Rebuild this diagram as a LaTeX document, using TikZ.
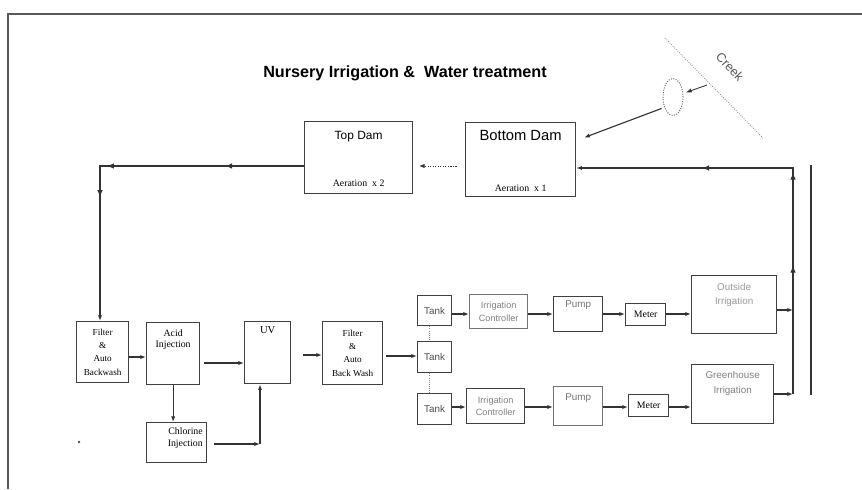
\documentclass[tikz,border=0pt]{standalone}
\usepackage{fontspec}
\setmainfont{Liberation Serif}
\setsansfont{Liberation Sans}
\usetikzlibrary{positioning,arrows.meta,decorations.markings,shapes.geometric}

\begin{document}
\begin{tikzpicture}[x=0.025cm, y=-0.025cm,
	>={Latex[length=4pt,width=3pt]},
	box/.style={draw=black!75, line width=0.9pt, anchor=north west, inner sep=0pt},
	pbox/.style={box, draw=black!55},
	serif/.style 2 args={font=\rmfamily\fontsize{#1}{#2}\selectfont, inner sep=0pt, align=center},
	sans/.style 2 args={font=\sffamily\fontsize{#1}{#2}\selectfont, inner sep=0pt, align=center},
	flow/.style={draw=black!80, line width=0.8pt, ->},
	midtip/.style={postaction={decorate, decoration={markings, mark=at position #1 with {\arrow{Latex[length=5pt,width=4pt]}}}}},
	link/.style={draw=black!45, densely dotted, line width=0.5pt}]
	\useasboundingbox (0,0) rectangle (862,489);
	\draw[black!65, line width=1.4pt] (862,14) -- (8,14) -- (8,489);
	\draw[black!80, line width=1.3pt] (811,165) -- (811,395);
	\fill[black!70] (79,442) circle (0.9pt);
	\node[font=\sffamily\bfseries\fontsize{11.5}{13}\selectfont] (title) at (405,73) {Nursery Irrigation \&\ \ Water treatment};
	% dams and creek
	\node[box, minimum width=2.7cm, minimum height=1.8cm] (topdam) at (304,121) {};
	\node[box, minimum width=2.75cm, minimum height=1.85cm] (botdam) at (465,122) {};
	\node[sans={8.5}{10}] (topdamt) [below=7pt of topdam.north] {Top Dam};
	\node[serif={7}{9}] (topdama) [above=5pt of topdam.south] {Aeration\ \ x 2};
	\node[sans={10.5}{12}] (botdamt) [below=6pt of botdam.north] {Bottom Dam};
	\node[serif={7}{9}] (botdama) [above=4pt of botdam.south] {Aeration\ \ x 1};
	\coordinate (cr1) at (665,38);
	\coordinate (cr2) at (763,138);
	\draw[black!45, densely dotted, line width=0.6pt] (cr1) -- (cr2);
	\node[sans={9}{10}, text=black!65, rotate=-47] (creek) at (730,67) {Creek};
	\node[draw=black!60, densely dotted, line width=0.7pt, ellipse, minimum width=0.5cm, minimum height=0.925cm, inner sep=0pt] (pond) at (673,97) {};
	\coordinate (cin) at (707,85);
	\coordinate (bdin) at (575,141);
	\draw[flow, line width=0.6pt, shorten >=2pt] (cin) -- (pond);
	\draw[flow, shorten <=2pt, shorten >=7pt] (pond.230) -- (bdin);
	% treatment line
	\node[box, serif={6.5}{9.5}, minimum width=1.3cm, minimum height=1.525cm] (filt1) at (76,321) {Filter\\\&\\Auto\\Backwash};
	\node[box, minimum width=1.325cm, minimum height=1.55cm] (acid) at (146,322) {};
	\node[box, minimum width=1.15cm, minimum height=1.55cm] (uv) at (244,321) {};
	\node[box, serif={6.5}{9.5}, minimum width=1.5cm, minimum height=1.575cm] (filt2) at (322,321) {Filter\\\&\\Auto\\Back Wash};
	\node[box, minimum width=1.5cm, minimum height=1cm] (chl) at (146,422) {};
	\node[serif={7}{8}] (acidt) [below=5pt of acid.north] {Acid\\Injection};
	\node[serif={7.5}{9}] (uvt) [below=3.5pt of uv.north] {UV};
	\node[serif={7}{8.5}, align=right] (chlt) [below left=4pt and 3pt of chl.north east] {Chlorine\\Injection};
	% tanks and irrigation
	\node[box, sans={7}{9}, text=black!70, minimum width=0.85cm, minimum height=0.75cm] (tank1) at (417,295) {Tank};
	\node[box, sans={7}{9}, text=black!70, minimum width=0.85cm, minimum height=0.775cm] (tank2) at (417,341) {Tank};
	\node[box, sans={7}{9}, text=black!70, minimum width=0.85cm, minimum height=0.775cm] (tank3) at (417,393) {Tank};
	\node[pbox, sans={6.5}{9}, text=black!50, minimum width=1.45cm, minimum height=0.85cm] (irc1) at (469,294) {Irrigation\\Controller};
	\node[box, sans={6.5}{9}, text=black!50, minimum width=1.45cm, minimum height=0.875cm] (irc2) at (466,388) {Irrigation\\Controller};
	\node[box, minimum width=1.225cm, minimum height=0.875cm] (pump1) at (553,296) {};
	\node[pbox, minimum width=1.225cm, minimum height=0.975cm] (pump2) at (553,386) {};
	\node[sans={7}{9}, text=black!55] (pump1t) [below=3.5pt of pump1.north] {Pump};
	\node[sans={7}{9}, text=black!55] (pump2t) [below=5pt of pump2.north] {Pump};
	\node[box, serif={7}{9}, minimum width=1cm, minimum height=0.55cm] (met1) at (625,303) {Meter};
	\node[box, serif={7}{9}, minimum width=1cm, minimum height=0.55cm] (met2) at (628,394) {Meter};
	\node[box, minimum width=2.125cm, minimum height=1.45cm] (out) at (691,275) {};
	\node[box, minimum width=2.05cm, minimum height=1.475cm] (green) at (691,364) {};
	\node[sans={7}{10.5}, text=black!40] (outt) [below=5.5pt of out.north] {Outside\\Irrigation};
	\node[sans={7}{10.5}, text=black!50] (greent) [below=5pt of green.north] {Greenhouse\\Irrigation};
	% flows
	\coordinate (c1) at (100,166);
	\draw[flow, midtip=0.22, midtip=0.549, midtip=0.655] (topdam.west |- c1) -- (c1) -- (filt1.north -| c1);
	\draw[flow, densely dotted, line width=0.6pt, shorten <=6pt, shorten >=4pt] (botdam.west |- c1) -- (topdam.east |- c1);
	\coordinate (fa) at (0,357);
	\coordinate (au) at (0,363);
	\coordinate (uf) at (0,355);
	\coordinate (ft) at (0,356);
	\draw[flow] (filt1.east |- fa) -- (acid.west |- fa);
	\draw[flow, shorten <=3pt] (acid.east |- au) -- (uv.west |- au);
	\draw[flow, shorten <=8pt] (uv.east |- uf) -- (filt2.west |- uf);
	\draw[flow, shorten <=2pt] (filt2.east |- ft) -- (tank2.west |- ft);
	\draw[flow] (acid.south) -- (acid.south |- chl.north);
	\coordinate (cuv) at (260,444);
	\draw[flow, shorten <=5pt] (chl.east |- cuv) -- (cuv);
	\draw[flow] (cuv) -- (cuv |- uv.south);
	\draw[link] ([xshift=-3.5pt]tank1.south) -- ([xshift=-3.5pt]tank2.north);
	\draw[link] ([xshift=-3.5pt]tank2.south) -- ([xshift=-3.5pt]tank3.north);
	\coordinate (r1) at (0,314);
	\coordinate (r2) at (0,407);
	\foreach \a/\b in {tank1/irc1, irc1/pump1, pump1/met1, met1/out} { \draw[flow] (\a.east |- r1) -- (\b.west |- r1); }
	\foreach \a/\b in {tank3/irc2, irc2/pump2, pump2/met2, met2/green} { \draw[flow] (\a.east |- r2) -- (\b.west |- r2); }
	% return to bottom dam
	\coordinate (rb) at (793,394);
	\coordinate (rt) at (793,168);
	\coordinate (ro) at (0,310);
	\draw[flow] (out.east |- ro) -- (rb |- ro);
	\draw[flow] (green.east |- rb) -- (rb);
	\draw[flow, midtip=0.29, midtip=0.5, midtip=0.716] (rb) -- (rt) -- (botdam.east |- rt);
\end{tikzpicture}
\end{document}
